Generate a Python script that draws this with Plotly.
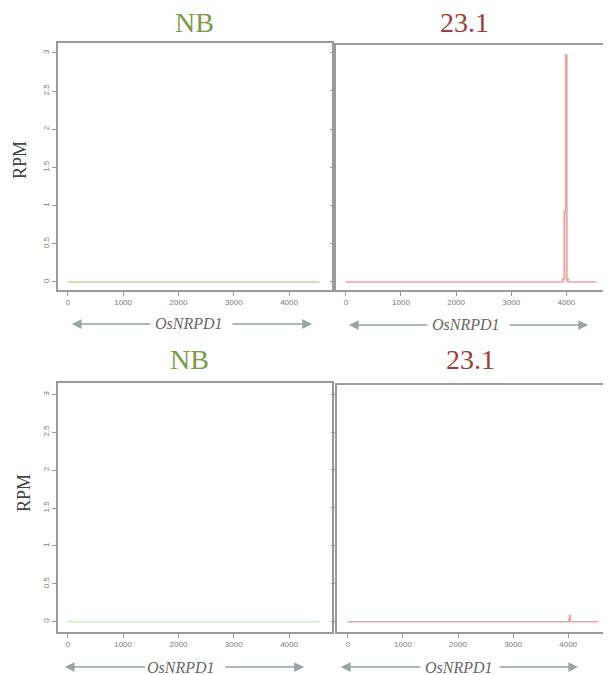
import plotly.graph_objects as go

W, H = 611, 675
OFF = 8  # page body margin in the browser
FW, FH = W - OFF, H - OFF

# ---- data ----
panel_titles = ["NB", "23.1", "NB", "23.1"]
gene_name = "OsNRPD1"
y_label = "RPM"
x_ticks = [0, 1000, 2000, 3000, 4000]
y_ticks = [0, 0.5, 1, 1.5, 2, 2.5, 3]
y_tick_text = ["0", "0.5", "1", "1.5", "2", "2.5", "3"]

# coverage profiles (position in bp, RPM)
nb_top_pos = [0, 4550]
nb_top_rpm = [0, 0]
r231_top_pos = [0, 3900, 3930, 3960, 3985, 4010, 4030, 4550]
r231_top_rpm = [0, 0, 0.04, 0.92, 2.97, 0.04, 0, 0]
nb_bot_pos = [0, 4550]
nb_bot_rpm = [0, 0]
r231_bot_pos = [0, 3990, 4010, 4025, 4040, 4550]
r231_bot_rpm = [0, 0, 0.03, 0.08, 0, 0]

GREEN_T = "#7b9a45"
RED_T = "#9e3b3b"
GREEN_L = "#b9d99e"
RED_L = "#eba4ac"
FRAME = "#9a9a9a"
TICKC = "#7a7a7a"

def px(x):
    return (x - OFF) / FW

def py(y):
    return 1 - (y - OFF) / FH

fig = go.Figure()

# panel geometry: (x_dom, y_dom, x_range, y_range, show_ylabels)
panels = [
    ([px(58), px(333)], [py(290), py(43)], [-180, 4775], [-0.105, 3.13], True),
    ([px(337), px(611)], [py(290), py(45)], [-181, 4774], [-0.105, 3.1], False),
    ([px(58), px(333)], [py(632), py(383)], [-180, 4775], [-0.136, 3.15], True),
    ([px(338), px(611)], [py(632), py(385)], [-199, 4742], [-0.136, 3.12], False),
]

data = [
    (nb_top_pos, nb_top_rpm, GREEN_L, "rgba(185,217,158,0.5)"),
    (r231_top_pos, r231_top_rpm, RED_L, "rgba(235,164,172,0.5)"),
    (nb_bot_pos, nb_bot_rpm, "#d2e7c2", "rgba(207,229,189,0.5)"),
    (r231_bot_pos, r231_bot_rpm, RED_L, "rgba(235,164,172,0.5)"),
]

for i, ((xd, yd, xr, yr, showy), (xs, ys, lc, fc)) in enumerate(zip(panels, data)):
    n = "" if i == 0 else str(i + 1)
    fig.add_trace(go.Scatter(
        x=xs, y=ys, mode="lines", line=dict(color=lc, width=1.6, shape="hv"),
        fill="tozeroy", fillcolor=fc, xaxis="x" + n, yaxis="y" + n,
        showlegend=False, hoverinfo="skip"))
    fig.layout["xaxis" + n] = dict(
        domain=[max(0, xd[0]), min(1, xd[1])], range=xr, anchor="y" + n, tickvals=x_ticks,
        ticks="outside", ticklen=4, tickcolor=FRAME, showline=True, mirror=True,
        linecolor=FRAME, linewidth=1.5, showgrid=False, zeroline=False,
        tickfont=dict(family="Liberation Sans", size=8, color=TICKC), fixedrange=True)
    fig.layout["yaxis" + n] = dict(
        domain=yd, range=yr, anchor="x" + n, tickvals=y_ticks, ticktext=y_tick_text,
        showticklabels=showy, tickangle=-90,
        ticks="outside", ticklen=4, tickcolor=FRAME, showline=True, mirror=True,
        linecolor=FRAME, linewidth=1.5, showgrid=False, zeroline=False,
        tickfont=dict(family="Liberation Sans", size=8, color=TICKC), fixedrange=True)

ann = []
# titles
title_pos = [(195, 23, GREEN_T), (466, 23, RED_T), (190, 359, GREEN_T), (472, 359, RED_T)]
for t, (x, y, c) in zip(panel_titles, title_pos):
    ann.append(dict(text=t, x=px(x), y=py(y), xref="paper", yref="paper",
                    showarrow=False, borderpad=0,
                    font=dict(family="Liberation Serif", size=28, color=c),
                    xanchor="center", yanchor="middle"))
# RPM labels
for (x, y) in [(20, 160), (24, 493)]:
    ann.append(dict(text=y_label, x=px(x), y=py(y), xref="paper", yref="paper",
                    showarrow=False, textangle=-90,
                    font=dict(family="Liberation Serif", size=18, color="#444"),
                    xanchor="center", yanchor="middle"))
# gene labels with arrows: (text_center_x, y, left_head, left_tail, right_tail, right_head)
gene_pos = [(190, 324, 72, 152, 232, 313),
            (468, 325, 350, 430, 510, 590),
            (182, 667, 65, 147, 225, 305),
            (460, 667, 342, 423, 500, 580)]
for (tx, y, lh, lt, rt, rh) in gene_pos:
    ann.append(dict(text="<i>" + gene_name + "</i>", x=px(tx), y=py(y), xref="paper", yref="paper",
                    showarrow=False, font=dict(family="Liberation Serif", size=16, color="#666"),
                    xanchor="center", yanchor="middle"))
    ann.append(dict(text="", x=px(lh), y=py(y), xref="paper", yref="paper",
                    ax=lt - lh, ay=0, showarrow=True, arrowhead=2, arrowsize=1.3,
                    arrowwidth=1.5, arrowcolor="#9aa3a3"))
    ann.append(dict(text="", x=px(rh), y=py(y), xref="paper", yref="paper",
                    ax=rt - rh, ay=0, showarrow=True, arrowhead=2, arrowsize=1.3,
                    arrowwidth=1.5, arrowcolor="#9aa3a3"))

fig.update_layout(width=FW, height=FH, margin=dict(l=0, r=0, t=0, b=0),
                  paper_bgcolor="white", plot_bgcolor="white", annotations=ann,
                  showlegend=False)

fig.write_html("out.html")
